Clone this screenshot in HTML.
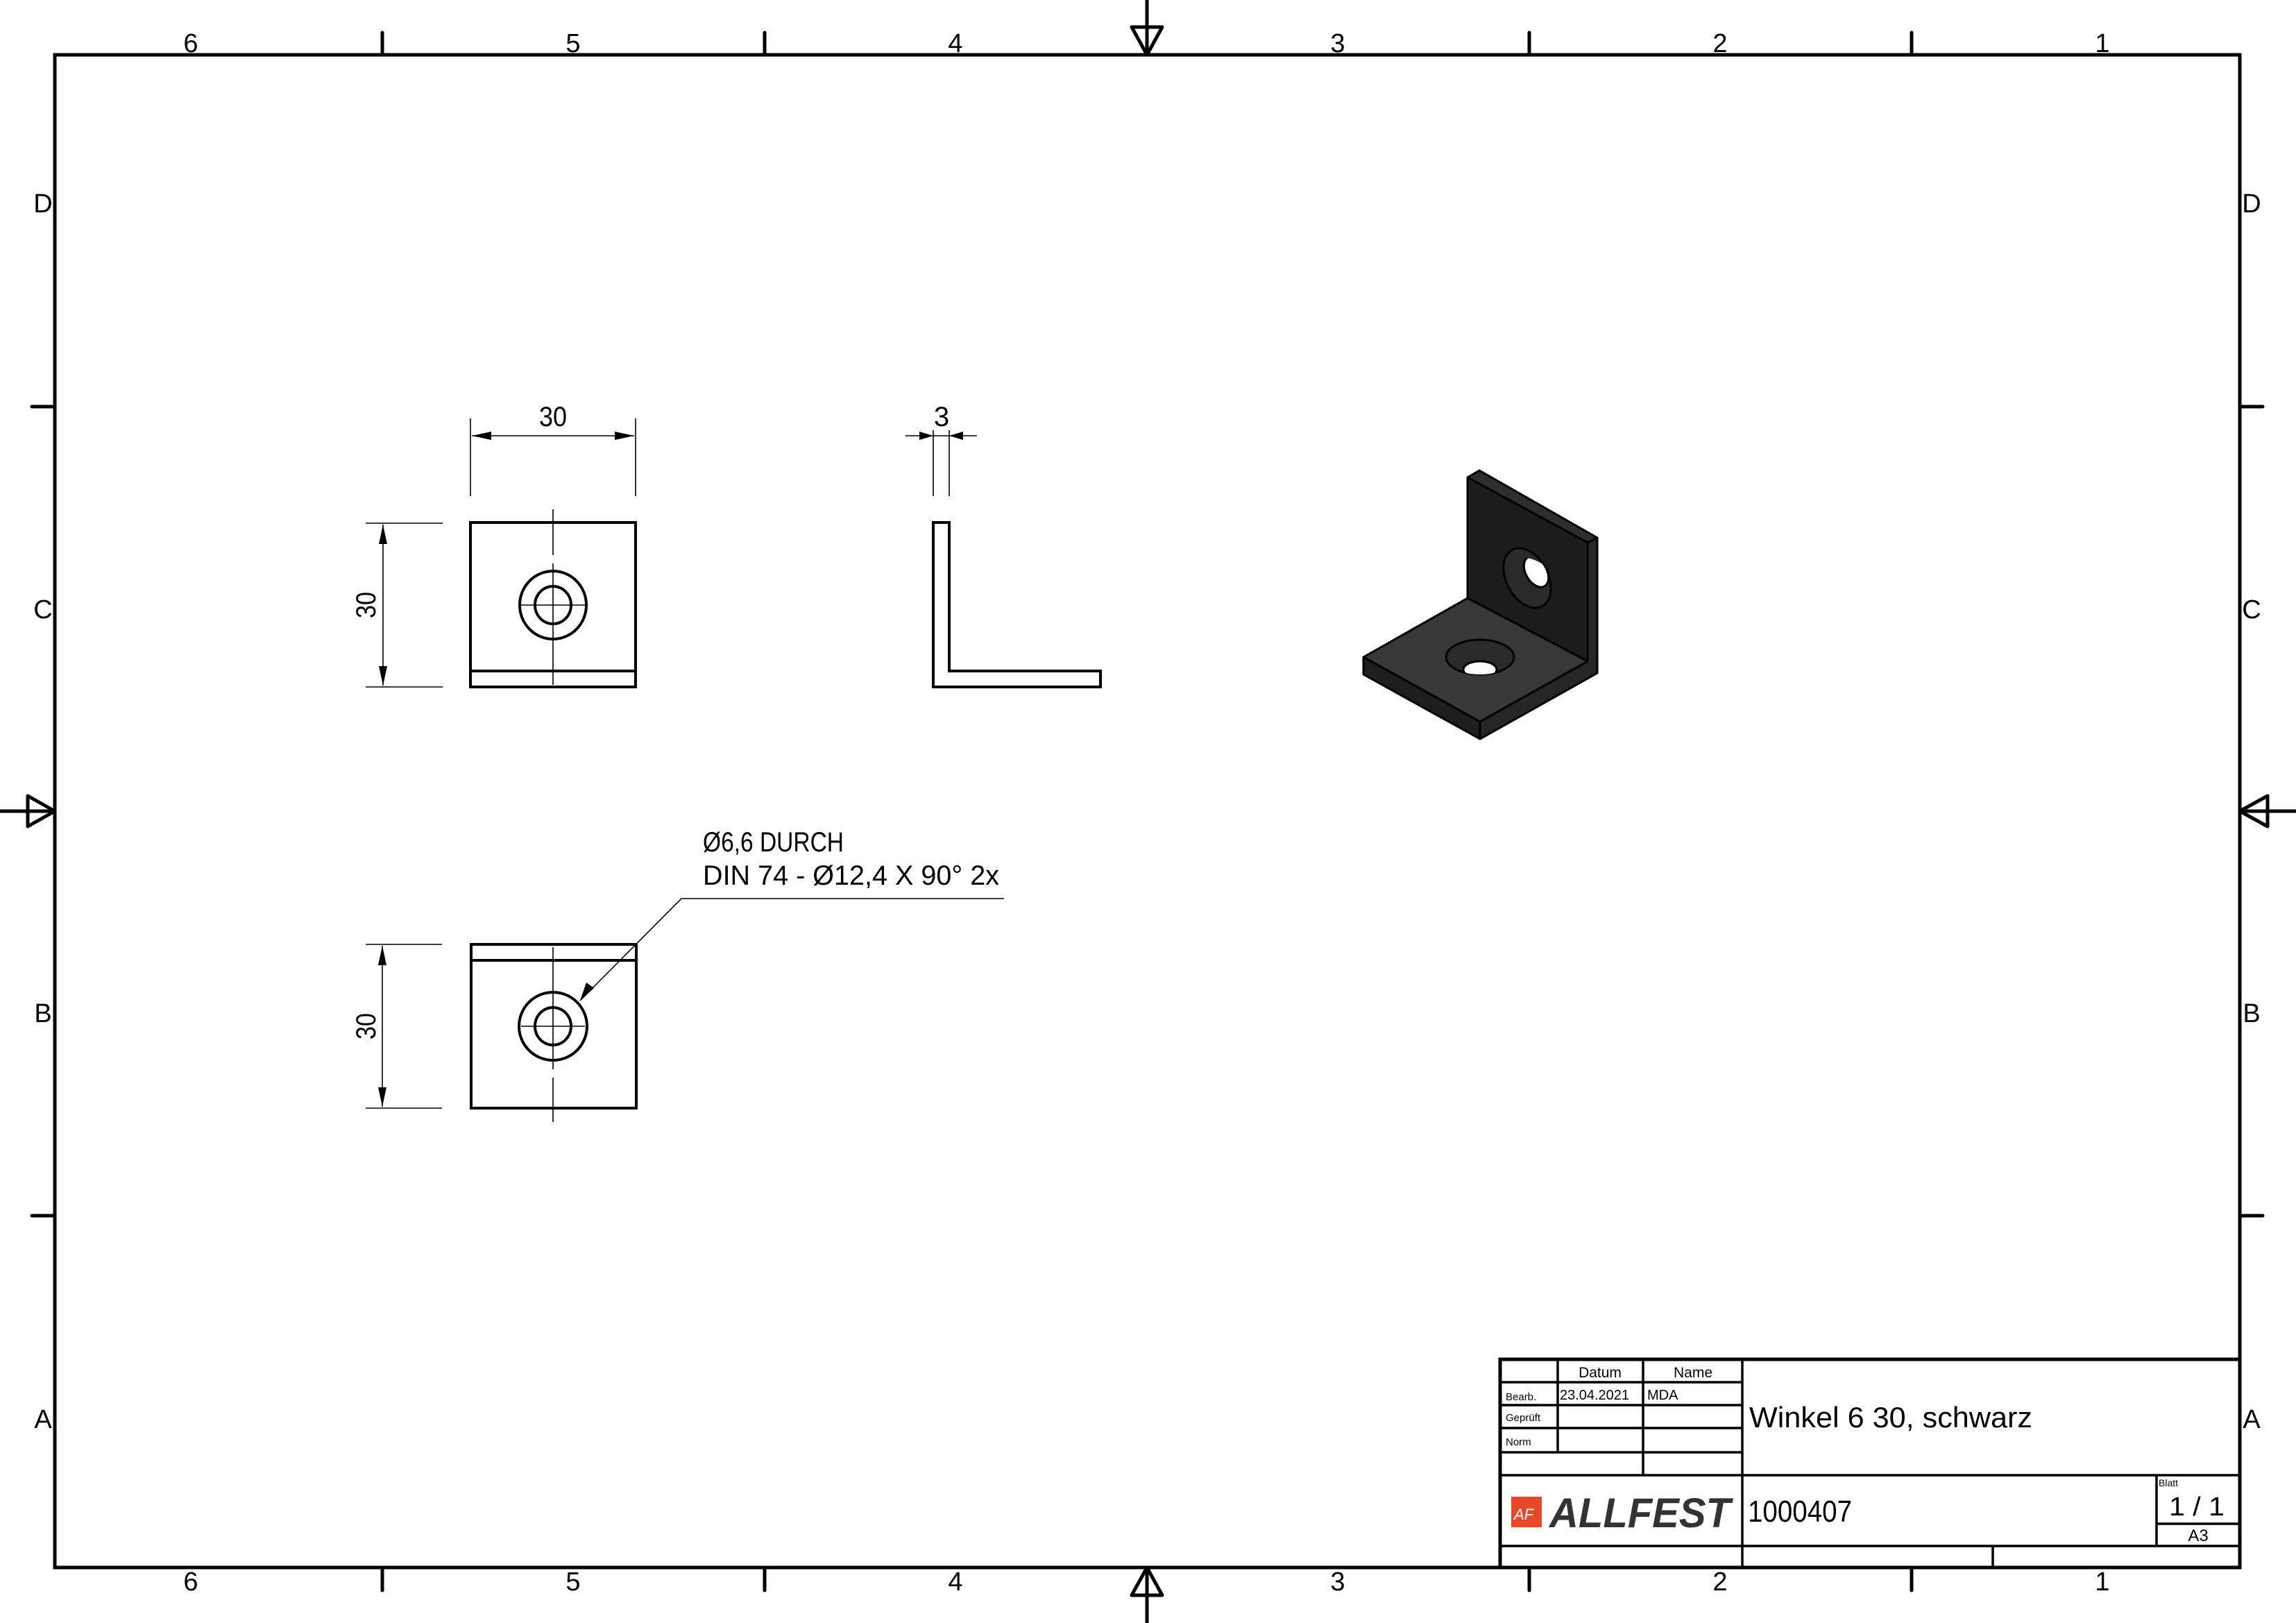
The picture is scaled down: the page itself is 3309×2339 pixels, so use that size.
<!DOCTYPE html>
<html><head><meta charset="utf-8"><style>
html,body{margin:0;padding:0;background:#fff}
svg{display:block}
text{font-family:"Liberation Sans",sans-serif;fill:#000}
</style></head><body>
<svg width="3309" height="2339" viewBox="0 0 3309 2339" xmlns="http://www.w3.org/2000/svg">
<defs>
<clipPath id="hc"><ellipse cx="2133" cy="947" rx="49" ry="25"/></clipPath>
<clipPath id="vc"><ellipse cx="2201" cy="833" rx="30" ry="46" transform="rotate(-28 2201 833)"/></clipPath>
</defs>
<!-- frame -->
<rect x="79" y="79" width="3149" height="2180" fill="none" stroke="#000" stroke-width="5"/>
<g stroke="#000" stroke-width="5" stroke-linecap="round">
<line x1="551" y1="47" x2="551" y2="79"/><line x1="1102" y1="47" x2="1102" y2="79"/><line x1="2204" y1="47" x2="2204" y2="79"/><line x1="2755" y1="47" x2="2755" y2="79"/>
<line x1="551" y1="2259" x2="551" y2="2292"/><line x1="1102" y1="2259" x2="1102" y2="2292"/><line x1="2204" y1="2259" x2="2204" y2="2292"/><line x1="2755" y1="2259" x2="2755" y2="2292"/>
<line x1="46" y1="586" x2="79" y2="586"/><line x1="46" y1="1752" x2="79" y2="1752"/>
<line x1="3228" y1="586" x2="3261" y2="586"/><line x1="3228" y1="1752" x2="3261" y2="1752"/>
<!-- centering arrows -->
<line x1="1653" y1="0" x2="1653" y2="79"/><polygon points="1631,39 1675,39 1653,79" fill="none" stroke-linejoin="round"/>
<line x1="1653" y1="2339" x2="1653" y2="2259"/><polygon points="1631,2299 1675,2299 1653,2259" fill="none" stroke-linejoin="round"/>
<line x1="0" y1="1169" x2="79" y2="1169"/><polygon points="40,1147 40,1191 79,1169" fill="none" stroke-linejoin="round"/>
<line x1="3309" y1="1169" x2="3228" y2="1169"/><polygon points="3268,1147 3268,1191 3228,1169" fill="none" stroke-linejoin="round"/>
</g>
<g font-size="38" text-anchor="middle">
<text x="275" y="75">6</text><text x="826" y="75">5</text><text x="1377" y="75">4</text><text x="1928" y="75">3</text><text x="2479" y="75">2</text><text x="3030" y="75">1</text>
<text x="275" y="2292">6</text><text x="826" y="2292">5</text><text x="1377" y="2292">4</text><text x="1928" y="2292">3</text><text x="2479" y="2292">2</text><text x="3030" y="2292">1</text>
<text x="62" y="306">D</text><text x="62" y="891">C</text><text x="62" y="1473">B</text><text x="62" y="2058">A</text>
<text x="3245" y="306">D</text><text x="3245" y="891">C</text><text x="3245" y="1473">B</text><text x="3245" y="2058">A</text>
</g>

<!-- top-left view -->
<g fill="none" stroke="#000">
<rect x="678" y="753" width="238" height="237" stroke-width="4"/>
<line x1="678" y1="967" x2="916" y2="967" stroke-width="4"/>
<ellipse cx="797" cy="872" rx="48" ry="49" stroke-width="4"/>
<ellipse cx="797" cy="872" rx="26" ry="27" stroke-width="4"/>
<g stroke-width="1.6">
<line x1="797" y1="734" x2="797" y2="800"/><line x1="797" y1="812" x2="797" y2="987"/>
<line x1="751" y1="872" x2="843" y2="872"/>
<line x1="678" y1="603" x2="678" y2="715"/><line x1="916" y1="603" x2="916" y2="715"/>
<line x1="680" y1="628" x2="914" y2="628"/>
<line x1="527" y1="754" x2="638" y2="754"/><line x1="527" y1="990" x2="638" y2="990"/>
<line x1="552" y1="756" x2="552" y2="988"/>
</g></g>
<g fill="#000">
<polygon points="680,628 708,622 708,634"/><polygon points="914,628 886,622 886,634"/>
<polygon points="552,756 546,784 558,784"/><polygon points="552,988 546,960 558,960"/>
</g>
<text x="797" y="614" font-size="40" text-anchor="middle" textLength="40" lengthAdjust="spacingAndGlyphs">30</text>
<text transform="translate(541,872) rotate(-90)" font-size="40" text-anchor="middle" textLength="38" lengthAdjust="spacingAndGlyphs">30</text>

<!-- side view L -->
<g fill="none" stroke="#000">
<polygon points="1345,753 1368,753 1368,967 1586,967 1586,990 1345,990" stroke-width="4"/>
<g stroke-width="1.6">
<line x1="1345" y1="620" x2="1345" y2="715"/><line x1="1368" y1="620" x2="1368" y2="715"/>
<line x1="1305" y1="628" x2="1408" y2="628"/>
</g></g>
<g fill="#000"><polygon points="1345,628 1325,622 1325,634"/><polygon points="1368,628 1388,622 1388,634"/></g>
<text x="1357" y="614" font-size="40" text-anchor="middle">3</text>

<!-- bottom view -->
<g fill="none" stroke="#000">
<rect x="679" y="1361" width="238" height="236" stroke-width="4"/>
<line x1="679" y1="1384" x2="917" y2="1384" stroke-width="4"/>
<ellipse cx="797" cy="1479" rx="49" ry="49" stroke-width="4"/>
<ellipse cx="797" cy="1479" rx="26" ry="27" stroke-width="4"/>
<g stroke-width="1.6">
<line x1="797" y1="1365" x2="797" y2="1541"/><line x1="797" y1="1553" x2="797" y2="1617"/>
<line x1="751" y1="1479" x2="843" y2="1479"/>
<line x1="527" y1="1361" x2="637" y2="1361"/><line x1="527" y1="1597" x2="637" y2="1597"/>
<line x1="551" y1="1363" x2="551" y2="1595"/>
<polyline points="836,1442 982,1295 1447,1295"/>
</g></g>
<g fill="#000">
<polygon points="551,1363 545,1391 557,1391"/><polygon points="551,1595 545,1567 557,1567"/>
<polygon points="836,1442 845,1416 856,1424"/>
</g>
<text transform="translate(541,1479) rotate(-90)" font-size="40" text-anchor="middle" textLength="38" lengthAdjust="spacingAndGlyphs">30</text>
<text x="1013" y="1227" font-size="40" textLength="203" lengthAdjust="spacingAndGlyphs">Ø6,6 DURCH</text>
<text x="1013" y="1275" font-size="40" textLength="427" lengthAdjust="spacingAndGlyphs">DIN 74 - Ø12,4 X 90° 2x</text>

<!-- isometric -->
<g stroke="#000" stroke-width="3" stroke-linejoin="round">
<polygon points="2115,688 2132,678 2302,775 2288,782" fill="#2e2e2e"/>
<polygon points="2115,688 2288,782 2288,953 2115,862" fill="#1c1c1c"/>
<polygon points="2288,782 2302,775 2302,970 2133,1065 2133,1040 2288,953" fill="#262626"/>
<polygon points="2115,862 1965,947 2133,1040 2288,953" fill="#383838"/>
<polygon points="1965,947 2133,1040 2133,1065 1965,972" fill="#1e1e1e"/>
<ellipse cx="2201" cy="833" rx="30" ry="46" transform="rotate(-28 2201 833)" fill="#2a2a2a"/>
<ellipse cx="2214" cy="824" rx="15" ry="24" transform="rotate(-30 2214 824)" fill="#fff" clip-path="url(#vc)"/>
<ellipse cx="2133" cy="947" rx="49" ry="25" fill="#2a2a2a"/>
<ellipse cx="2133" cy="965" rx="24" ry="12" fill="#fff" clip-path="url(#hc)"/>
</g>

<!-- title block -->
<g fill="none" stroke="#000">
<rect x="2162" y="1959" width="1066" height="300" stroke-width="5"/>
<g stroke-width="3.5">
<line x1="2245" y1="1959" x2="2245" y2="2093"/>
<line x1="2368" y1="1959" x2="2368" y2="2125"/>
<line x1="2511" y1="1959" x2="2511" y2="2259"/>
<line x1="2162" y1="1992" x2="2511" y2="1992"/>
<line x1="2162" y1="2025" x2="2511" y2="2025"/>
<line x1="2162" y1="2058" x2="2511" y2="2058"/>
<line x1="2162" y1="2093" x2="2511" y2="2093"/>
<line x1="2162" y1="2126" x2="3228" y2="2126"/>
<line x1="2162" y1="2228" x2="3228" y2="2228"/>
<line x1="3108" y1="2126" x2="3108" y2="2228"/>
<line x1="3108" y1="2196" x2="3228" y2="2196"/>
<line x1="2872" y1="2228" x2="2872" y2="2259"/>
</g></g>
<text x="2306" y="1985" font-size="21" text-anchor="middle">Datum</text>
<text x="2440" y="1985" font-size="21" text-anchor="middle">Name</text>
<text x="2170" y="2018" font-size="15">Bearb.</text>
<text x="2248" y="2017" font-size="20" textLength="100" lengthAdjust="spacingAndGlyphs">23.04.2021</text>
<text x="2374" y="2017" font-size="20">MDA</text>
<text x="2170" y="2048" font-size="15">Geprüft</text>
<text x="2170" y="2083" font-size="15">Norm</text>
<text x="2521" y="2057" font-size="42" textLength="408" lengthAdjust="spacingAndGlyphs">Winkel 6 30, schwarz</text>
<rect x="2178" y="2157" width="44" height="44" fill="#e8482a"/>
<text x="2182" y="2190" font-size="22" font-style="italic" fill="#fff" style="fill:#fff">AF</text>
<text x="2233" y="2201" font-size="60" font-weight="bold" font-style="italic" style="fill:#333" textLength="261" lengthAdjust="spacingAndGlyphs">ALLFEST</text>
<text x="2519" y="2193" font-size="44" textLength="150" lengthAdjust="spacingAndGlyphs">1000407</text>
<text x="3111" y="2142" font-size="14">Blatt</text>
<text x="3166" y="2184" font-size="38" text-anchor="middle" textLength="80" lengthAdjust="spacingAndGlyphs">1 / 1</text>
<text x="3168" y="2221" font-size="24" text-anchor="middle">A3</text>
</svg>
</body></html>
